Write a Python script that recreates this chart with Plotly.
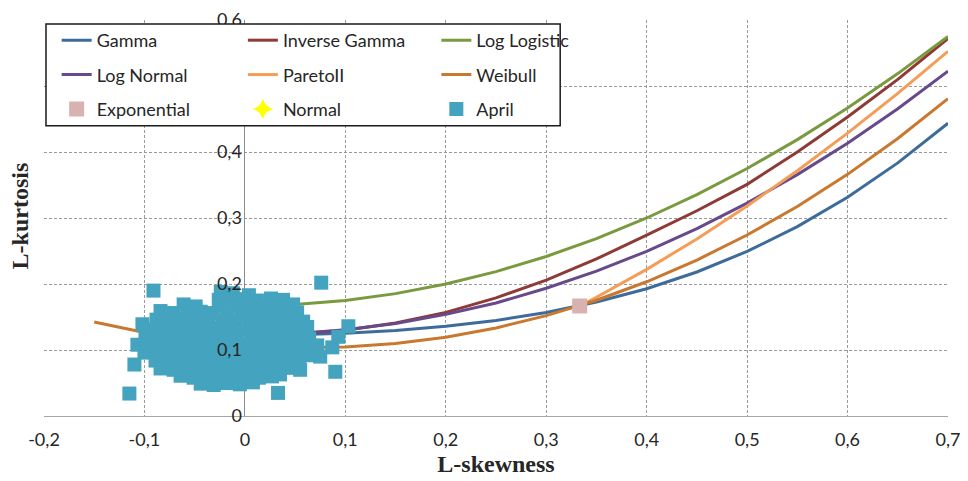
import plotly.graph_objects as go

# ---------------- data ----------------
skew_grid = [0.0, 0.05, 0.1, 0.15, 0.2, 0.25, 0.3, 0.35, 0.4, 0.45, 0.5, 0.55, 0.6, 0.65, 0.7]
gamma_kurt = [0.1224, 0.1232, 0.1255, 0.1297, 0.1359, 0.1448, 0.1569, 0.1727, 0.1929, 0.2182,
              0.2494, 0.2869, 0.3314, 0.3835, 0.4436]
invgamma_kurt = [0.1226, 0.1245, 0.1300, 0.1410, 0.1570, 0.1790, 0.2060, 0.2380, 0.2740, 0.3110,
                 0.3510, 0.4000, 0.4530, 0.5100, 0.5720]
loglogistic_kurt = [0.1667, 0.1688, 0.1750, 0.1854, 0.2000, 0.2188, 0.2417, 0.2688, 0.3000, 0.3354,
                    0.3750, 0.4188, 0.4667, 0.5188, 0.5750]
lognormal_kurt = [0.1228, 0.1248, 0.1306, 0.1403, 0.1540, 0.1712, 0.1935, 0.2194, 0.2495, 0.2839,
                  0.3226, 0.3657, 0.4133, 0.4656, 0.5226]

weibull_skew = [-0.15, -0.1, -0.05, 0.0, 0.05, 0.1, 0.15, 0.2, 0.25, 0.3, 0.35, 0.4, 0.45, 0.5,
                0.55, 0.6, 0.65, 0.7]
weibull_kurt = [0.1425, 0.1265, 0.1147, 0.1070, 0.1036, 0.1045, 0.1097, 0.1193, 0.1334, 0.1521,
                0.1754, 0.2034, 0.2363, 0.2742, 0.3174, 0.3661, 0.4204, 0.4808]

pareto_skew = [0.3333, 0.35, 0.4, 0.45, 0.5, 0.55, 0.6, 0.65, 0.7]
pareto_kurt = [0.1667, 0.1799, 0.2222, 0.2683, 0.3182, 0.3716, 0.4286, 0.4889, 0.5526]

exponential_skew = [0.3333]
exponential_kurt = [0.1667]
normal_skew = [0.0]
normal_kurt = [0.1226]

april_skew = [
    -0.024, -0.012, 0.004,
    -0.026, -0.014, 0.0, 0.012, 0.026, 0.038,
    -0.061, -0.049, -0.022, -0.008, 0.006, 0.02, 0.034, 0.048,
    -0.084, -0.071, -0.057, -0.044, -0.031, -0.017, -0.003, 0.011, 0.024, 0.038, 0.052,
    -0.088, -0.075, -0.062, -0.049, -0.036, -0.022, -0.009, 0.005, 0.018, 0.031, 0.045, 0.058,
    -0.09, -0.077, -0.064, -0.051, -0.038, -0.025, -0.012, 0.002, 0.015, 0.028, 0.041, 0.054, 0.062,
    -0.099, -0.086, -0.073, -0.06, -0.047, -0.034, -0.021, -0.008, 0.006, 0.019, 0.032, 0.045, 0.058, 0.064,
    -0.107, -0.094, -0.081, -0.068, -0.055, -0.042, -0.029, -0.016, -0.002, 0.011, 0.024, 0.037, 0.05, 0.063,
    -0.1, -0.087, -0.074, -0.061, -0.048, -0.035, -0.022, -0.009, 0.004, 0.017, 0.03, 0.043, 0.056, 0.062,
    -0.089, -0.076, -0.063, -0.05, -0.037, -0.024, -0.011, 0.002, 0.015, 0.028, 0.041, 0.054,
    -0.084, -0.071, -0.058, -0.045, -0.032, -0.019, -0.006, 0.007, 0.02, 0.033, 0.046, 0.055,
    -0.064, -0.051, -0.038, -0.025, -0.012, 0.001, 0.014, 0.027, 0.035,
    -0.044, -0.031, -0.018, -0.005, 0.008,
    -0.091, -0.102, -0.110, -0.115, 0.076, 0.033, 0.090, 0.103, 0.093, 0.087, 0.075, 0.072,
]
april_kurt = [
    0.188, 0.186, 0.183,
    0.176, 0.179, 0.177, 0.175, 0.178, 0.176,
    0.169, 0.166, 0.167, 0.168, 0.165, 0.168, 0.166, 0.169,
    0.159, 0.156, 0.155, 0.158, 0.156, 0.157, 0.155, 0.158, 0.156, 0.155, 0.157,
    0.146, 0.144, 0.147, 0.143, 0.146, 0.144, 0.145, 0.143, 0.146, 0.144, 0.146, 0.143,
    0.131, 0.133, 0.130, 0.134, 0.131, 0.133, 0.130, 0.132, 0.134, 0.131, 0.133, 0.130, 0.135,
    0.121, 0.118, 0.122, 0.119, 0.121, 0.118, 0.120, 0.122, 0.119, 0.121, 0.118, 0.120, 0.122, 0.117,
    0.108, 0.106, 0.110, 0.107, 0.109, 0.106, 0.108, 0.110, 0.107, 0.109, 0.106, 0.108, 0.110, 0.106,
    0.096, 0.094, 0.097, 0.093, 0.095, 0.097, 0.094, 0.096, 0.093, 0.095, 0.097, 0.094, 0.096, 0.092,
    0.084, 0.082, 0.085, 0.081, 0.083, 0.085, 0.082, 0.084, 0.081, 0.083, 0.085, 0.082,
    0.072, 0.070, 0.073, 0.069, 0.071, 0.073, 0.070, 0.072, 0.069, 0.071, 0.073, 0.070,
    0.061, 0.058, 0.060, 0.062, 0.059, 0.061, 0.058, 0.060, 0.063,
    0.049, 0.047, 0.050, 0.048, 0.051,
    0.190, 0.139, 0.078, 0.034, 0.202, 0.035, 0.067, 0.136, 0.120, 0.104, 0.090, 0.107,
]

x_tick_vals = [-0.2, -0.1, 0.0, 0.1, 0.2, 0.3, 0.4, 0.5, 0.6, 0.7]
x_tick_text = ["-0,2", "-0,1", "0", "0,1", "0,2", "0,3", "0,4", "0,5", "0,6", "0,7"]
y_tick_vals = [0.0, 0.1, 0.2, 0.3, 0.4, 0.5, 0.6]
y_tick_text = ["0", "0,1", "0,2", "0,3", "0,4", "0,5", "0,6"]

# ---------------- figure ----------------
LW = 3
fig = go.Figure()

def line(name, x, y, color, legend):
    fig.add_trace(go.Scatter(x=x, y=y, mode="lines", name=name, legend=legend,
                             legendgroup=name, line=dict(color=color, width=LW)))

line("Gamma", skew_grid, gamma_kurt, "#3D6C9C", "legend")
line("Inverse Gamma", skew_grid, invgamma_kurt, "#8E3A37", "legend2")
line("Log Logistic", skew_grid, loglogistic_kurt, "#7A9A3F", "legend3")
line("Log Normal", skew_grid, lognormal_kurt, "#664A8B", "legend")
line("ParetoII", pareto_skew, pareto_kurt, "#F59D56", "legend2")
line("Weibull", weibull_skew, weibull_kurt, "#C9782F", "legend3")

fig.add_trace(go.Scatter(x=exponential_skew, y=exponential_kurt, mode="markers", name="Exponential",
                         legend="legend", legendgroup="Exponential",
                         marker=dict(symbol="square", size=15, color="#D8B2B0")))
fig.add_trace(go.Scatter(x=normal_skew, y=normal_kurt, mode="markers", name="Normal",
                         legend="legend2", legendgroup="Normal",
                         marker=dict(symbol="star-diamond", size=15, color="#FFFF00")))
fig.add_trace(go.Scatter(x=april_skew, y=april_kurt, mode="markers", name="April",
                         legend="legend3", legendgroup="April",
                         marker=dict(symbol="square", size=14, color="#44A3BE")))

tick_font = dict(family="Lato", size=18, color="#262626")
leg_font = dict(family="Lato", size=18, color="#262626")

def legend_cfg(x):
    return dict(x=x, y=0.995, xanchor="left", yanchor="top", bgcolor="rgba(0,0,0,0)",
                borderwidth=0, font=leg_font, traceorder="grouped", tracegroupgap=8,
                orientation="v")

# the page body adds an 8px offset, so the figure is drawn 8px smaller
fig.update_layout(
    width=960, height=473,
    margin=dict(l=36, r=20, t=12, b=65, autoexpand=False),
    paper_bgcolor="white", plot_bgcolor="white",
    showlegend=True,
    legend=legend_cfg(0.014),
    legend2=legend_cfg(0.220),
    legend3=legend_cfg(0.434),
    xaxis=dict(range=[-0.2, 0.7], tickvals=x_tick_vals, ticktext=x_tick_text,
               automargin=False,
               showgrid=True, gridcolor="#9A9A9A", griddash="3px,2px", gridwidth=1,
               zeroline=True, zerolinecolor="#8C8C8C", zerolinewidth=1.3,
               showline=False, ticks="", tickfont=tick_font, ticklabelstandoff=11,
               ticklabeloverflow="allow",
               title=dict(text="<b>L-skewness</b>",
                          font=dict(family="Liberation Serif", size=24, color="#262626"),
                          standoff=6)),
    yaxis=dict(range=[0, 0.6], tickvals=y_tick_vals, ticktext=y_tick_text,
               anchor="free", position=0.2/0.9, automargin=False,
               showgrid=True, gridcolor="#9A9A9A", griddash="3px,2px", gridwidth=1,
               zeroline=True, zerolinecolor="#A6A6A6", zerolinewidth=1.3,
               showline=False, ticks="", tickfont=tick_font, ticklabelstandoff=3,
               ticklabeloverflow="allow"),
    shapes=[dict(type="rect", xref="paper", yref="paper",
                 x0=0.0022, x1=0.571, y0=0.733, y1=0.99,
                 fillcolor="white", line=dict(color="#1A1A1A", width=1.5), layer="above")],
    annotations=[dict(text="<b>L-kurtosis</b>", textangle=-90, xref="paper", yref="paper",
                      x=-0.0265, y=0.504, xanchor="center", yanchor="middle", showarrow=False,
                      font=dict(family="Liberation Serif", size=24, color="#262626"))],
)

fig.write_html("out.html")
